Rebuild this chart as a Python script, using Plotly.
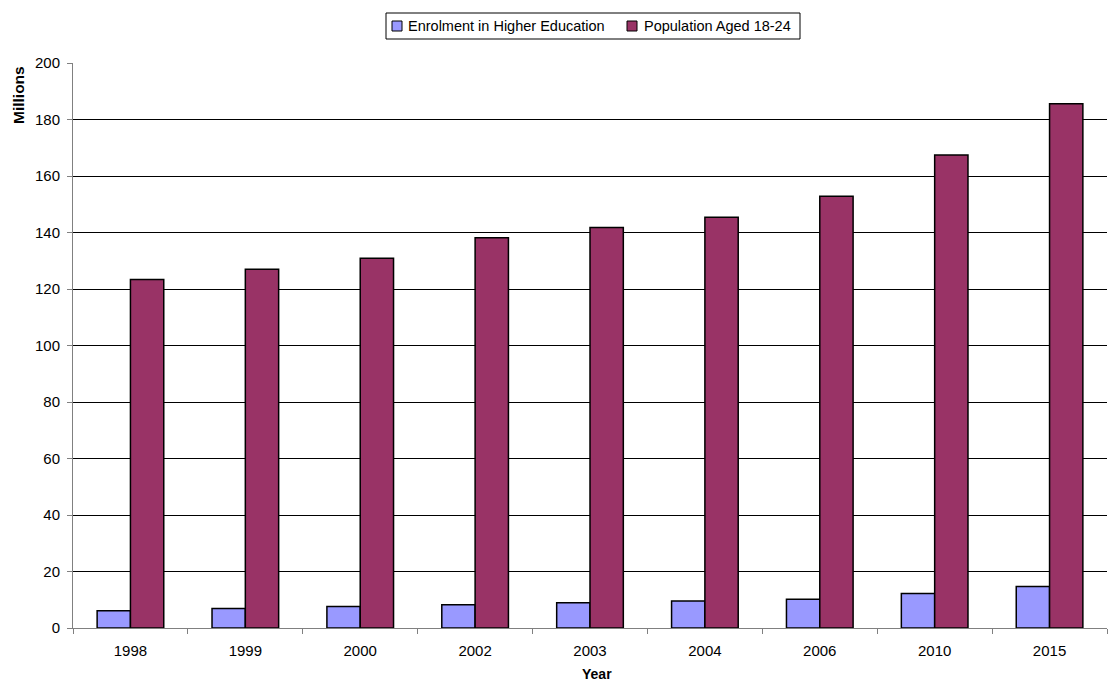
import plotly.graph_objects as go

years = ["1998", "1999", "2000", "2002", "2003", "2004", "2006", "2010", "2015"]
enrolment = [6.1, 6.9, 7.6, 8.2, 8.9, 9.6, 10.2, 12.2, 14.7]
population = [123.4, 127.0, 130.9, 138.1, 141.8, 145.4, 152.8, 167.4, 185.6]

series_names = ["Enrolment in Higher Education", "Population Aged 18-24"]
series_colors = ["#9999FF", "#993366"]

FONT = "Liberation Sans, Arial, sans-serif"
W, H = 1108, 682
L, R, T, B = 73, 1, 63, 54
PW, PH = W - L - R, H - T - B


def px(x):
    """Pixel column -> paper x."""
    return (x - L) / PW


def py(y):
    """Pixel row -> paper y."""
    return (H - B - y) / PH


fig = go.Figure()
for name, vals, col in zip(series_names, [enrolment, population], series_colors):
    fig.add_trace(go.Bar(
        x=years, y=vals, name=name, showlegend=False,
        marker=dict(color=col, line=dict(color="#000000", width=1.5)),
    ))

# Boxed legend along the top, drawn as shapes and text
shapes = [dict(type="rect", xref="paper", yref="paper",
               x0=px(386), x1=px(800), y0=py(39), y1=py(13),
               line=dict(color="#000000", width=1), fillcolor="white")]
annotations = []
for (sx, tx), name, col in zip([(392, 406), (627, 642)], series_names, series_colors):
    shapes.append(dict(type="rect", xref="paper", yref="paper",
                       x0=px(sx), x1=px(sx + 10), y0=py(31), y1=py(21),
                       line=dict(color="#000000", width=1), fillcolor=col))
    annotations.append(dict(text=name, xref="paper", yref="paper",
                            x=px(tx), y=py(26), xanchor="left", yanchor="middle",
                            showarrow=False, font=dict(size=14.5, family=FONT)))

annotations += [
    dict(text="<b>Year</b>", xref="paper", yref="paper", x=px(597), y=py(674),
         xanchor="center", yanchor="middle", showarrow=False,
         font=dict(size=14, family=FONT)),
    dict(text="<b>Millions</b>", xref="paper", yref="paper", x=px(18), y=py(95),
         xanchor="center", yanchor="middle", textangle=-90, showarrow=False,
         font=dict(size=15.5, family=FONT)),
]

fig.update_layout(
    width=W, height=H,
    margin=dict(l=L, r=R, t=T, b=B),
    paper_bgcolor="white", plot_bgcolor="white",
    barmode="group", bargap=0.42, bargroupgap=0,
    font=dict(family=FONT, size=15, color="#000000"),
    showlegend=False,
    xaxis=dict(
        type="category", tickson="boundaries", ticks="outside", ticklen=5,
        tickcolor="#808080", showline=True, linecolor="#808080", linewidth=1,
        showgrid=False, tickfont=dict(size=15), ticklabelstandoff=9,
    ),
    yaxis=dict(
        range=[0, 200], dtick=20, ticks="outside", ticklen=5, tickcolor="#808080",
        showline=True, linecolor="#808080", linewidth=1,
        showgrid=True, gridcolor="#000000", gridwidth=1,
        zeroline=False, tickfont=dict(size=15), ticklabelstandoff=4,
    ),
    shapes=shapes,
    annotations=annotations,
)

fig.write_html("out.html")
